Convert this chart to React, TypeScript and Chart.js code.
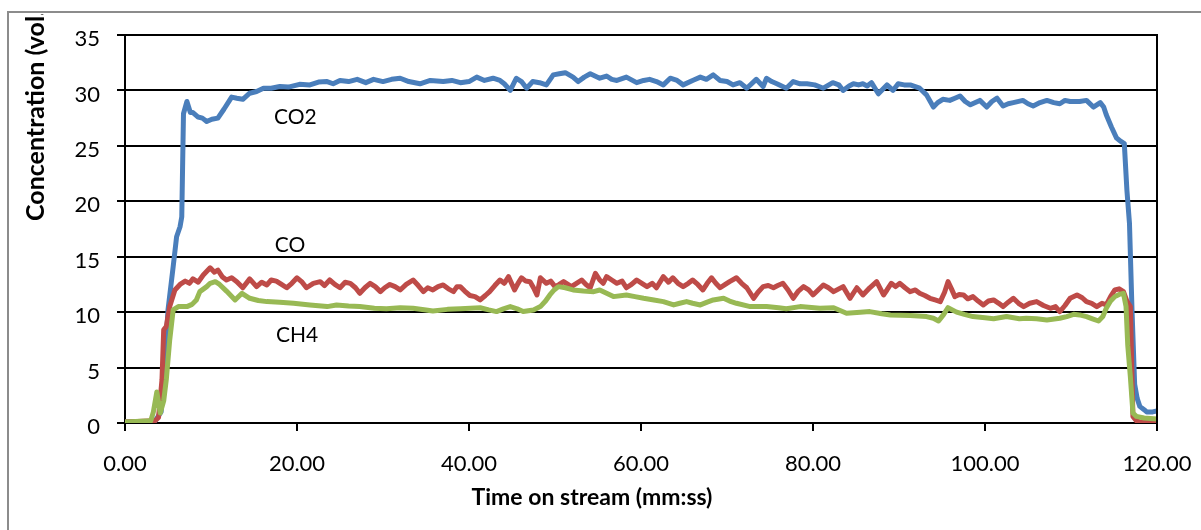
import React, { useEffect, useRef } from 'react';
import { Chart, registerables } from 'chart.js';

Chart.register(...registerables);

// ---------- data ----------
const xTickValues = [0, 20, 40, 60, 80, 100, 120];
const yTickValues = [0, 5, 10, 15, 20, 25, 30, 35];
const seriesNames = ['CO2', 'CO', 'CH4'];
const xAxisTitle = 'Time on stream (mm:ss)';
const yAxisTitle = 'Concentration (vol.%)';

const co2Minutes = [
  0, 2, 3.5, 4.2, 4.6, 5.0, 5.6, 6.0, 6.4, 6.6,
  6.8, 7.2, 7.6, 7.9, 8.5, 9.0, 9.5, 10.1, 10.8, 11.5,
  12.4, 13.0, 13.7, 14.5, 15.3, 16.1, 17.0, 18.0, 19.0, 20.3,
  21.5, 22.5, 23.5, 24.2, 25, 26, 27, 28, 28.9, 30,
  31, 32, 33, 34.3, 35.5, 37, 38, 39, 40, 40.9,
  41.8, 42.8, 43.6, 44.1, 44.8, 45.5, 46.1, 46.7, 47.4, 48.2,
  49, 49.8, 50.5, 51.2, 52.1, 52.7, 53.4, 54.1, 55.2, 56,
  56.6, 57.2, 58.3, 59.5, 60.3, 61, 61.8, 62.6, 63.4, 64.2,
  64.9, 66, 66.9, 67.6, 68.4, 69.2, 70, 70.7, 71.5, 72.3,
  73.4, 74.2, 74.6, 75.2, 75.8, 76.9, 77.7, 78.5, 79.3, 80.2,
  81.2, 82.3, 83.0, 83.5, 84.2, 84.7, 85.3, 85.8, 86.3, 86.8,
  87.6, 88.6, 89.3, 89.9, 90.6, 91.3, 92.4, 93.2, 94.0, 94.5,
  95.1, 95.9, 96.5, 97.1, 97.7, 98.3, 99.4, 100.2, 100.8, 101.4,
  102.1, 102.7, 103.3, 104.4, 105.0, 105.6, 106.4, 107.2, 108.0, 108.7,
  109.3, 109.9, 111, 111.8, 112.6, 113.4, 113.8, 114.1, 114.7, 115.3,
  115.8, 116.2, 116.5, 116.6, 116.8, 117.1, 117.4, 117.7, 118.0, 118.5,
  118.8, 119.5, 120,
];
const co2Values = [
  0.1, 0.1, 0.2, 1.0, 5.0, 10.2, 14.1, 16.8, 17.7, 18.6,
  27.9, 29.0, 28.0, 28.0, 27.6, 27.5, 27.2, 27.4, 27.5, 28.3,
  29.4, 29.3, 29.2, 29.75, 29.9, 30.2, 30.2, 30.35, 30.3, 30.55,
  30.5, 30.75, 30.8, 30.6, 30.9, 30.8, 31.0, 30.7, 31.0, 30.8,
  31.0, 31.1, 30.8, 30.6, 30.9, 30.8, 30.9, 30.7, 30.8, 31.2,
  30.9, 31.1, 30.9, 30.6, 30.0, 31.1, 30.8, 30.2, 30.8, 30.7,
  30.5, 31.4, 31.5, 31.6, 31.2, 30.8, 31.2, 31.5, 31.1, 31.3,
  31.0, 30.9, 31.2, 30.7, 30.9, 31.0, 30.8, 30.5, 31.1, 30.9,
  30.5, 30.9, 31.2, 31.0, 31.4, 30.9, 30.8, 30.5, 30.7, 30.2,
  31.0, 30.35, 31.1, 30.8, 30.6, 30.2, 30.8, 30.6, 30.6, 30.5,
  30.2, 30.7, 30.5, 30.0, 30.4, 30.6, 30.5, 30.6, 30.4, 30.7,
  29.7, 30.5, 30.0, 30.6, 30.5, 30.5, 30.2, 29.6, 28.5, 28.9,
  29.2, 29.1, 29.3, 29.5, 29.0, 28.7, 29.1, 28.5, 29.0, 29.3,
  28.6, 28.8, 28.9, 29.1, 28.8, 28.6, 28.9, 29.1, 28.9, 28.8,
  29.1, 29.0, 29.0, 29.1, 28.5, 28.9, 28.5, 27.8, 26.7, 25.7,
  25.4, 25.2, 21.0, 20.0, 18.0, 10.0, 3.5, 2.2, 1.5, 1.2,
  1.0, 1.0, 1.1,
];

const coMinutes = [
  0, 3.5, 3.9, 4.3, 4.5, 4.8, 5.2, 5.8, 6.4, 7.0,
  7.5, 7.9, 8.5, 9.1, 9.9, 10.4, 10.8, 11.3, 11.8, 12.4,
  13.0, 13.7, 14.5, 15.3, 15.9, 16.5, 17.0, 17.6, 18.2, 18.8,
  19.4, 20.0, 20.6, 21.1, 21.9, 22.7, 23.2, 23.8, 24.4, 25.0,
  25.6, 26.2, 26.8, 27.3, 27.9, 28.5, 29.1, 29.7, 30.2, 30.8,
  31.4, 32.0, 32.7, 33.5, 34.1, 34.7, 35.2, 35.8, 36.4, 37.0,
  37.6, 38.2, 38.6, 39.0, 39.5, 40.1, 40.7, 41.3, 41.9, 42.4,
  43.0, 43.6, 44.1, 44.6, 45.3, 45.7, 46.1, 46.6, 47.1, 47.5,
  47.9, 48.3, 49.0, 49.5, 50.0, 50.5, 51.0, 51.5, 51.9, 52.5,
  53.1, 53.6, 54.1, 54.7, 55.2, 55.6, 56.0, 56.6, 57.2, 57.8,
  58.3, 58.9, 59.5, 60.1, 60.7, 61.3, 61.8, 62.6, 63.2, 63.7,
  64.3, 64.9, 65.5, 66.0, 66.6, 67.2, 67.7, 68.2, 68.7, 69.2,
  69.8, 70.3, 71.1, 71.7, 72.3, 73.1, 73.6, 74.2, 74.8, 75.4,
  75.9, 76.5, 77.1, 77.7, 78.3, 78.9, 79.5, 80.0, 80.6, 81.2,
  81.8, 82.4, 83.0, 83.5, 84.3, 85.1, 85.8, 86.6, 87.4, 88.2,
  88.6, 89.1, 89.6, 90.1, 90.7, 91.3, 91.9, 92.4, 93.0, 93.6,
  94.2, 94.8, 95.3, 95.7, 96.1, 96.5, 97.0, 97.5, 98.0, 98.6,
  99.2, 99.8, 100.4, 101.0, 101.6, 102.1, 102.7, 103.3, 103.9, 104.5,
  105.2, 106.0, 106.8, 107.6, 108.2, 108.7, 109.3, 109.9, 110.7, 111.3,
  111.8, 112.4, 113.0, 113.6, 114.1, 114.6, 115.1, 115.6, 116.1, 116.5,
  116.9, 117.2, 117.6, 118, 120,
];
const coValues = [
  0.1, 0.2, 0.5, 3.9, 8.4, 8.7, 10.5, 12.0, 12.5, 12.8,
  12.6, 13.0, 12.7, 13.35, 14.0, 13.6, 13.8, 13.2, 12.9, 13.1,
  12.75, 12.2, 13.0, 12.3, 12.7, 12.45, 12.9, 12.8, 12.5, 12.2,
  12.6, 13.1, 12.7, 12.2, 12.6, 12.75, 12.4, 12.9, 12.5, 12.2,
  12.7, 12.6, 12.2, 11.7, 12.2, 12.6, 12.3, 11.85, 12.2, 12.5,
  12.3, 12.0, 12.5, 12.9, 12.4, 11.85, 12.2, 12.0, 12.3, 12.45,
  12.1, 11.85, 12.3, 12.3, 11.9, 11.5, 11.4, 11.1, 11.5, 11.85,
  12.4, 12.9, 12.6, 13.2, 12.0, 12.6, 13.1, 12.8, 12.75, 12.2,
  11.55, 13.1, 12.6, 12.8, 12.3, 12.5, 12.75, 12.5, 12.3, 12.6,
  12.9, 12.5, 12.2, 13.5, 12.9, 12.6, 13.2, 12.9, 12.6, 12.8,
  12.2, 12.5, 12.9, 12.6, 12.3, 12.6, 12.2, 13.2, 12.7, 13.1,
  12.6, 12.3, 12.6, 12.9, 12.5, 12.0, 12.6, 13.1, 12.6, 12.2,
  12.5, 12.75, 13.1, 12.6, 12.2, 11.25, 11.8, 12.3, 12.4, 12.2,
  12.4, 12.6, 12.0, 11.25, 11.9, 12.3, 12.0, 11.55, 12.0, 12.45,
  12.2, 11.85, 12.1, 12.3, 11.25, 12.2, 11.55, 12.2, 12.75, 11.55,
  12.0, 12.6, 12.3, 12.6, 12.2, 11.85, 12.0, 11.7, 11.5, 11.25,
  11.1, 10.95, 11.8, 12.75, 12.1, 11.4, 11.6, 11.55, 11.2, 11.4,
  11.0, 10.65, 11.0, 11.1, 10.8, 10.5, 10.9, 11.25, 10.8, 10.5,
  10.8, 10.95, 10.6, 10.35, 10.5, 10.05, 10.6, 11.25, 11.55, 11.3,
  10.95, 10.8, 10.5, 10.8, 10.65, 11.4, 12.0, 12.1, 11.85, 11.0,
  10.5, 0.6, 0.2, 0.1, 0.1,
];

const ch4Minutes = [
  0, 3.0, 3.3, 3.7, 4.1, 4.5, 4.8, 5.2, 5.6, 6.2,
  7.2, 7.8, 8.3, 8.7, 9.5, 9.9, 10.5, 11.0, 11.8, 12.8,
  13.6, 14.5, 15.5, 16.5, 18, 19.6, 21.5, 23.5, 24.6, 26,
  27.3, 29, 30.4, 32, 33.5, 35, 35.8, 37.5, 39, 41.3,
  42.3, 43.2, 44.0, 44.8, 45.6, 46.3, 47.5, 48.3, 48.9, 49.4,
  49.9, 50.4, 51.2, 52.1, 53.3, 54.5, 55.2, 56.0, 56.8, 58.3,
  59.3, 60.3, 61.5, 62.6, 63.8, 64.5, 65.3, 66.0, 66.9, 67.7,
  68.4, 69.6, 70.3, 71.1, 72.7, 74.6, 76.0, 76.9, 78.5, 80.8,
  82.4, 83.9, 85.5, 86.6, 88, 89, 91.3, 93.2, 94.0, 94.6,
  95.2, 95.7, 96.7, 97.6, 98.6, 100, 101, 102.5, 104, 104.8,
  106, 107.2, 108.7, 109.5, 110.3, 111.0, 111.8, 112.5, 113.2, 113.7,
  114.1, 114.6, 115.1, 115.6, 116.1, 116.4, 116.6, 116.9, 117.2, 117.6,
  118.5, 120,
];
const ch4Values = [
  0.1, 0.2, 1.0, 2.8, 0.9, 2.0, 3.9, 7.5, 10.2, 10.5,
  10.5, 10.7, 11.1, 11.85, 12.3, 12.6, 12.75, 12.5, 11.9, 11.1,
  11.7, 11.25, 11.05, 10.95, 10.9, 10.8, 10.65, 10.5, 10.65, 10.55,
  10.5, 10.35, 10.3, 10.4, 10.35, 10.2, 10.1, 10.25, 10.3, 10.4,
  10.2, 10.05, 10.3, 10.5, 10.3, 10.05, 10.2, 10.5, 11.0, 11.55,
  12.0, 12.3, 12.2, 12.0, 11.9, 11.85, 12.0, 11.7, 11.4, 11.55,
  11.4, 11.25, 11.1, 10.95, 10.65, 10.8, 10.95, 10.8, 10.65, 10.9,
  11.1, 11.25, 11.0, 10.8, 10.5, 10.5, 10.4, 10.3, 10.5, 10.35,
  10.4, 9.9, 10.0, 10.05, 9.85, 9.75, 9.7, 9.6, 9.45, 9.2,
  9.8, 10.4, 10.0, 9.8, 9.6, 9.5, 9.4, 9.6, 9.4, 9.45,
  9.4, 9.3, 9.45, 9.6, 9.8, 9.75, 9.6, 9.4, 9.2, 9.6,
  10.35, 11.0, 11.4, 11.6, 11.7, 10.5, 7.0, 4.2, 0.9, 0.6,
  0.45, 0.35,
];

// label anchor points in data units (minutes, vol%)
const seriesLabelMinutes = [19.8, 19.2, 20.0];
const seriesLabelValues = [27.6, 16.05, 7.95];

const seriesColors = ['#4A7EBB', '#BE4B48', '#98B954'];

function zip(m: number[], v: number[]) {
  return m.map((x, i) => ({ x, y: v[i] }));
}

export default function App() {
  const canvasRef = useRef<HTMLCanvasElement>(null);

  useEffect(() => {
    const canvas = canvasRef.current;
    if (!canvas) return;

    const overlay = {
      id: 'overlay',
      afterDraw(chart: any) {
        const ctx = chart.ctx as CanvasRenderingContext2D;
        const a = chart.chartArea;
        const xs = chart.scales.x;
        const ys = chart.scales.y;
        ctx.save();
        // right border of plot
        ctx.strokeStyle = '#000';
        ctx.lineWidth = 2;
        ctx.beginPath();
        ctx.moveTo(a.right, a.top - 1);
        ctx.lineTo(a.right, a.bottom);
        ctx.stroke();
        // outer frame
        ctx.strokeStyle = '#8c8c8c';
        ctx.lineWidth = 2;
        ctx.beginPath();
        ctx.moveTo(8, 530);
        ctx.lineTo(8, 12);
        ctx.lineTo(1201, 12);
        ctx.stroke();
        // series labels
        ctx.fillStyle = '#000';
        ctx.font = '21px Lato';
        ctx.textAlign = 'center';
        ctx.textBaseline = 'middle';
        seriesNames.forEach((n, i) => {
          ctx.fillText(n, xs.getPixelForValue(seriesLabelMinutes[i]), ys.getPixelForValue(seriesLabelValues[i]));
        });
        // x axis title
        ctx.font = 'bold 23px Lato';
        ctx.fillText(xAxisTitle, 592, 498);
        // y axis title (clipped by frame)
        ctx.save();
        ctx.beginPath();
        ctx.rect(10, 14, 200, 516);
        ctx.clip();
        ctx.font = 'bold 25px Lato';
        ctx.translate(36, 221);
        ctx.rotate(-Math.PI / 2);
        ctx.textAlign = 'left';
        ctx.fillText(yAxisTitle, 0, 0);
        ctx.restore();
        ctx.restore();
      },
    };

    const chart = new Chart(canvas, {
      type: 'line',
      data: {
        datasets: [
          { label: seriesNames[2], data: zip(ch4Minutes, ch4Values), borderColor: seriesColors[2], backgroundColor: seriesColors[2] },
          { label: seriesNames[1], data: zip(coMinutes, coValues), borderColor: seriesColors[1], backgroundColor: seriesColors[1] },
          { label: seriesNames[0], data: zip(co2Minutes, co2Values), borderColor: seriesColors[0], backgroundColor: seriesColors[0] },
        ],
      },
      options: {
        responsive: false,
        animation: false,
        layout: { padding: { left: 0, top: 35, right: 44, bottom: 0 } },
        elements: {
          point: { radius: 0 },
          line: { borderWidth: 5, tension: 0, borderJoinStyle: 'round', borderCapStyle: 'round' },
        },
        plugins: { legend: { display: false }, tooltip: { enabled: false } },
        scales: {
          x: {
            type: 'linear',
            min: 0,
            max: 120,
            afterBuildTicks: (s: any) => { s.ticks = xTickValues.map((v) => ({ value: v })); },
            afterFit: (s: any) => { s.height = 107; s.paddingLeft = 0; s.paddingRight = 0; },
            ticks: {
              color: '#000',
              font: { family: 'Lato', size: 22 },
              padding: 20,
              maxRotation: 0,
              callback: (v: any) => Number(v).toFixed(2),
            },
            grid: { drawOnChartArea: false, color: '#000', lineWidth: 2, tickLength: 8 },
            border: { color: '#000', width: 2 },
          },
          y: {
            min: 0,
            max: 35,
            afterBuildTicks: (s: any) => { s.ticks = yTickValues.map((v) => ({ value: v })); },
            afterFit: (s: any) => { s.width = 125; s.paddingTop = 0; s.paddingBottom = 0; },
            ticks: {
              color: '#000',
              font: { family: 'Lato', size: 22 },
              padding: 17,
              labelOffset: 4,
            },
            grid: { color: '#000', lineWidth: 2, tickLength: 8 },
            border: { color: '#000', width: 2 },
          },
        },
      },
      plugins: [overlay],
    });

    return () => chart.destroy();
  }, []);

  return (
    <div style={{ position: 'fixed', left: 0, top: 0, width: 1201, height: 530, background: '#fff' }}>
      <canvas ref={canvasRef} width={1201} height={530} style={{ display: 'block', width: 1201, height: 530 }} />
    </div>
  );
}
